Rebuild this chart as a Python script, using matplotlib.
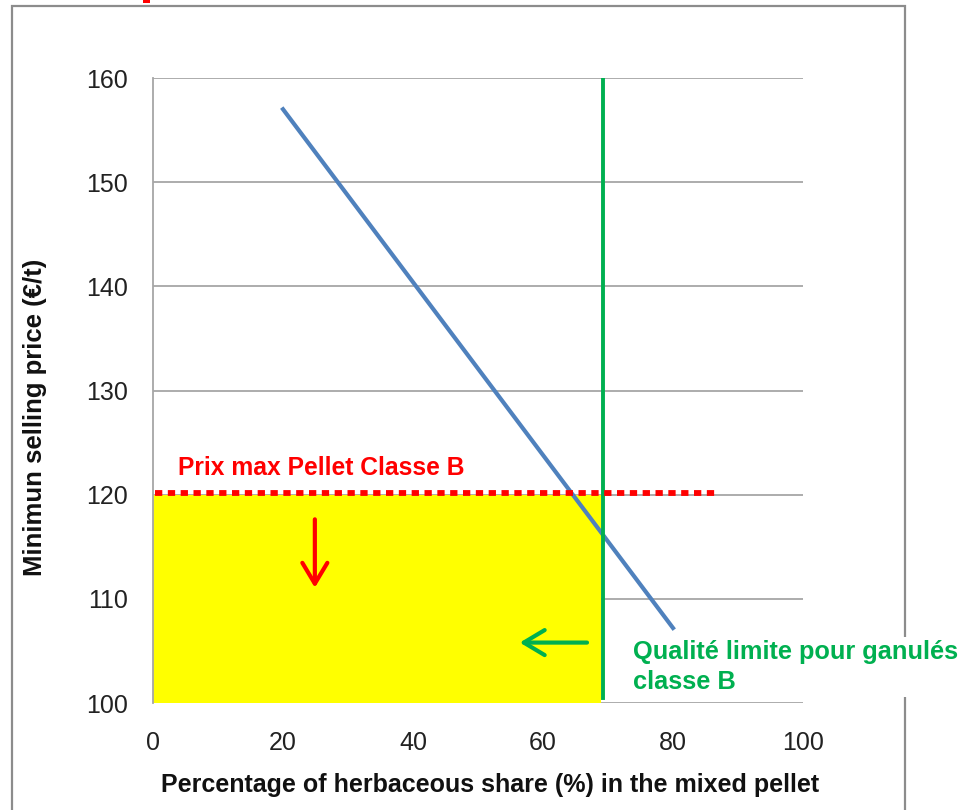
import matplotlib
matplotlib.use("Agg")
import matplotlib.pyplot as plt
from matplotlib.patches import Rectangle
import numpy as np

# data
share = [20, 30, 40, 50, 60, 70, 80]
price = [157.0, 148.7, 140.4, 132.1, 123.8, 115.5, 107.2]
price_max_b = 120.2      # prix max pellet classe B
share_limit_b = 69.2     # qualite limite classe B
yticks = [100, 110, 120, 130, 140, 150, 160]
xticks = [0, 20, 40, 60, 80, 100]

plt.rcParams['font.family'] = ['Liberation Sans', 'DejaVu Sans']

fig = plt.figure(figsize=(9.67, 8.10), dpi=100)
ax = fig.add_axes([153/967, 1-703/810, 650/967, 625/810])

# outer chart border
fig.patches.append(Rectangle((12/967, -0.05), 893/967, 1.05 - 6/810,
                             transform=fig.transFigure, fill=False,
                             edgecolor='#8c8c8c', lw=1.6, zorder=0))
# bit of a cut-off red title at the very top
fig.patches.append(Rectangle((143/967, 1-3/810), 7/967, 3/810,
                             transform=fig.transFigure, facecolor='#ff0000',
                             edgecolor='none'))

ax.set_xlim(0, 100)
ax.set_ylim(100, 160)
ax.set_yticks(yticks)
ax.set_xticks(xticks)
ax.grid(axis='y', color='#a6a6a6', lw=1.3)
ax.set_axisbelow(True)
for s in ['top', 'right', 'bottom']:
    ax.spines[s].set_visible(False)
ax.spines['left'].set_color('#a6a6a6')
ax.spines['left'].set_linewidth(1.3)
ax.tick_params(length=0, labelsize=18, colors='#222222')
ax.tick_params(axis='y', pad=18)
ax.tick_params(axis='x', pad=20)

# yellow zone
ax.add_patch(Rectangle((0, 100), share_limit_b - 0.3, 120 - 100,
                       facecolor='#ffff00', edgecolor='none', zorder=1))

ax.plot(share, price, color='#4f81bd', lw=3, zorder=3)
ax.plot([share_limit_b, share_limit_b], [100.5, 160], color='#00b050', lw=2.8, zorder=4)
ax.plot([0.3, 86.6], [price_max_b, price_max_b], color='#ff0000', lw=4.2,
        dashes=(1.25, 0.95), dash_capstyle='butt', zorder=5)

ax.annotate('', xy=(24.9, 110.8), xytext=(24.9, 117.9),
            arrowprops=dict(arrowstyle='->,head_length=1.5,head_width=0.9',
                            color='#ff0000', lw=3))
ax.annotate('', xy=(56.0, 105.8), xytext=(67.2, 105.8),
            arrowprops=dict(arrowstyle='->,head_length=1.5,head_width=0.9',
                            color='#00b050', lw=3))

ax.text(3.8, 121.4, 'Prix max Pellet Classe B', color='#ff0000', fontsize=17.7,
        fontweight='bold', va='bottom', ha='left', zorder=6)
fig.text(633/967, 1-667/810, 'Qualité limite pour ganulés\nclasse B', color='#00b050',
         fontsize=18.3, fontweight='bold', va='center', ha='left', linespacing=1.35,
         bbox=dict(facecolor='white', edgecolor='none', pad=2))

fig.text(35/967, 1-417/810, 'Minimun selling price (€/t)', rotation=90, fontsize=18.5,
         fontweight='bold', ha='center', va='center', color='#111111')
fig.text(490/967, 1-785/810, 'Percentage of herbaceous share (%) in the mixed pellet',
         fontsize=18, fontweight='bold', ha='center', va='center', color='#111111')

fig.savefig('out.png', dpi=100)
